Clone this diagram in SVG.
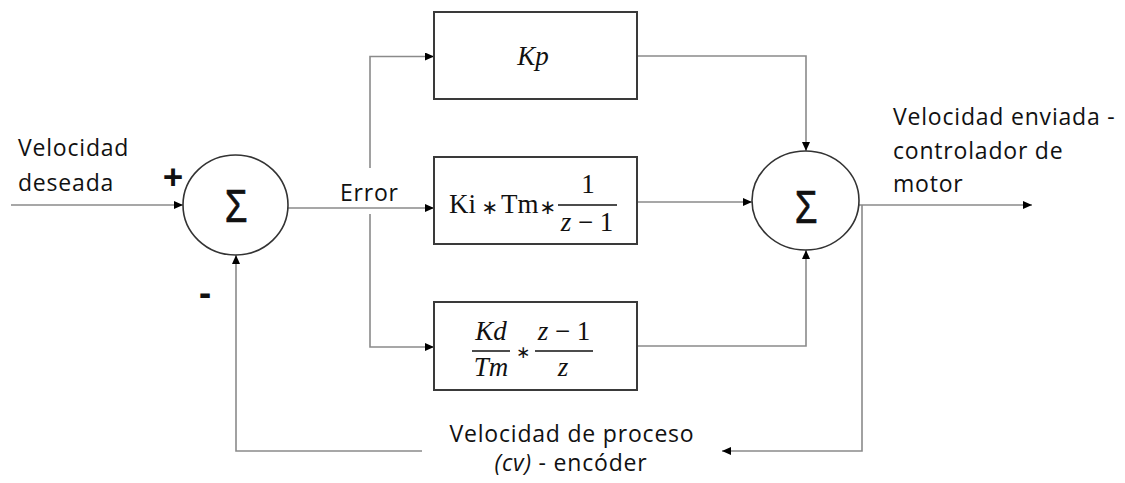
<svg xmlns="http://www.w3.org/2000/svg" width="1125" height="483" viewBox="0 0 1125 483">
<style>
.lbl{font-family:"Open Sans","Noto Sans","Liberation Sans",sans-serif;font-size:23px;letter-spacing:0.8px;fill:#111}
.sign{font-family:"Open Sans","Noto Sans","Liberation Sans",sans-serif;font-weight:bold;fill:#111}
.math{font-family:"Liberation Serif","DejaVu Serif",serif;font-size:27px;fill:#111}
.it{font-style:italic}
.op{font-family:"DejaVu Sans",sans-serif;font-size:20px;fill:#111}
.sig{font-family:"Liberation Sans","DejaVu Sans",sans-serif;font-size:46px;fill:#111;stroke:#111;stroke-width:0.7}
.box{fill:#fff;stroke:#3a3a3a;stroke-width:2}
.sum{fill:#fff;stroke:#333;stroke-width:1.6}
.conn{fill:none;stroke:#8a8a8a;stroke-width:1.6}
.bar{stroke:#111;stroke-width:1.3}
</style>
<defs>
<marker id="ah" markerUnits="userSpaceOnUse" markerWidth="10" markerHeight="8" refX="9" refY="4" orient="auto">
<path d="M0,0 L9,4 L0,8 z" fill="#000"/>
</marker>
</defs>

<g id="connectors">
<path class="conn" d="M11,205 H183" marker-end="url(#ah)"/>
<path class="conn" d="M288,208 H434" marker-end="url(#ah)"/>
<path class="conn" d="M370,168 V56.5 H434" marker-end="url(#ah)"/>
<path class="conn" d="M370,214 V347 H434" marker-end="url(#ah)"/>
<path class="conn" d="M637,56 H806 V151" marker-end="url(#ah)"/>
<path class="conn" d="M637,202 H752" marker-end="url(#ah)"/>
<path class="conn" d="M637,346 H806 V250" marker-end="url(#ah)"/>
<path class="conn" d="M859,205 H1032" marker-end="url(#ah)"/>
<path class="conn" d="M862,205 V451 H722" marker-end="url(#ah)"/>
<path class="conn" d="M422,451 H236 V255" marker-end="url(#ah)"/>
</g>

<g id="sum1">
<ellipse class="sum" cx="235.5" cy="205" rx="52.5" ry="50"/>
<text class="sig" transform="translate(236,222) scale(0.8,1)" text-anchor="middle">Σ</text>
</g>

<g id="sum2">
<ellipse class="sum" cx="805.5" cy="200.5" rx="53.5" ry="49.5"/>
<text class="sig" transform="translate(806,223) scale(0.8,1)" text-anchor="middle">Σ</text>
</g>

<g id="kp">
<rect class="box" x="434" y="12" width="203" height="87"/>
<text class="math it" x="533" y="65" text-anchor="middle">Kp</text>
</g>

<g id="ki">
<rect class="box" x="434" y="157" width="203" height="87"/>
<text class="math" x="449" y="213">Ki</text>
<text class="op" x="490" y="214" text-anchor="middle">∗</text>
<text class="math" x="501" y="213">Tm</text>
<text class="op" x="548" y="214" text-anchor="middle">∗</text>
<text class="math" x="588" y="193" text-anchor="middle">1</text>
<line class="bar" x1="558" y1="205" x2="617" y2="205"/>
<text class="math" x="587" y="231" text-anchor="middle"><tspan class="it">z</tspan> − 1</text>
</g>

<g id="kd">
<rect class="box" x="434" y="302" width="203" height="88"/>
<text class="math it" x="491" y="340" text-anchor="middle">Kd</text>
<line class="bar" x1="472" y1="351" x2="510" y2="351"/>
<text class="math it" x="491" y="376" text-anchor="middle">Tm</text>
<text class="op" x="523" y="358" text-anchor="middle" style="font-size:17px">∗</text>
<text class="math" x="564" y="340" text-anchor="middle"><tspan class="it">z</tspan> − 1</text>
<line class="bar" x1="535" y1="351" x2="593" y2="351"/>
<text class="math it" x="563" y="376" text-anchor="middle">z</text>
</g>

<g id="labels">
<text class="lbl" x="18" y="156">Velocidad</text>
<text class="lbl" x="18" y="191">deseada</text>
<text class="sign" x="173" y="190" text-anchor="middle" style="font-size:36px">+</text>
<text class="sign" x="205" y="305" text-anchor="middle" style="font-size:36px">-</text>
<text class="lbl" x="340" y="201">Error</text>
<text class="lbl" x="893" y="125">Velocidad enviada -</text>
<text class="lbl" x="893" y="159">controlador de</text>
<text class="lbl" x="893" y="192">motor</text>
<text class="lbl" x="572" y="442" text-anchor="middle">Velocidad de proceso</text>
<text class="lbl" x="571" y="471" text-anchor="middle"><tspan font-style="italic">(cv)</tspan> - encóder</text>
</g>
</svg>
